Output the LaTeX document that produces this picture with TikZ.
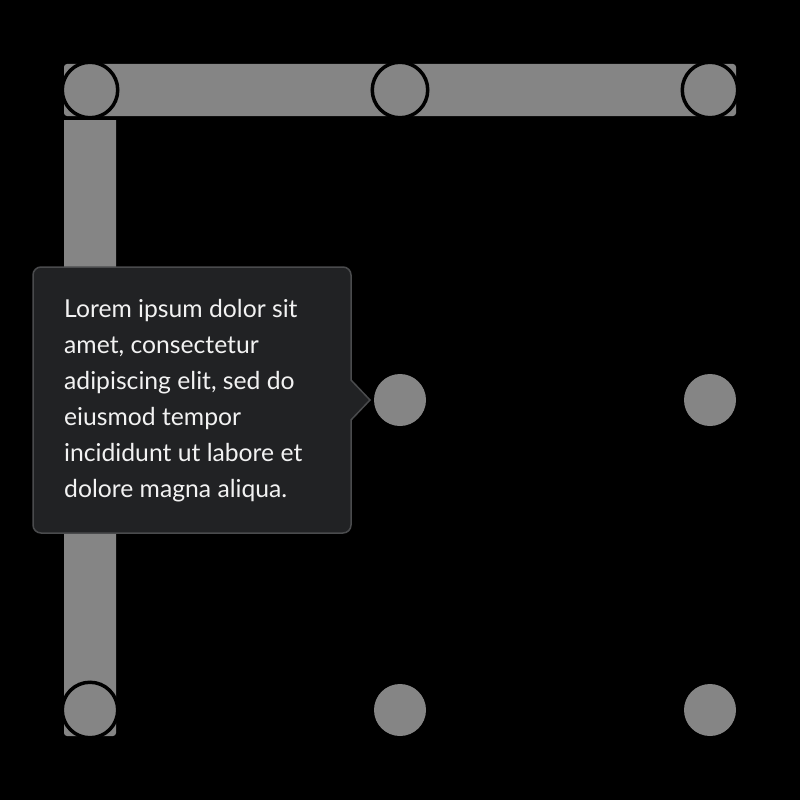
\documentclass[tikz,border=0pt]{standalone}
\usepackage{fontspec}
\setmainfont{Lato}
\definecolor{bargray}{HTML}{858585}
\definecolor{tipfill}{HTML}{212224}
\definecolor{tipedge}{HTML}{4A4B4D}
\definecolor{tiptext}{HTML}{F2F2F2}
\begin{document}
\begin{tikzpicture}[x=1pt,y=-1pt,
  bar/.style={fill=bargray,rounded corners=3pt},
  dotring/.style={circle,fill=bargray,draw=black,line width=3.5pt,minimum size=55.5pt,inner sep=0pt},
  dotplain/.style={circle,fill=bargray,minimum size=52pt,inner sep=0pt},
  tip/.style={fill=tipfill,draw=tipedge,line width=1.5pt,line join=miter}]
\useasboundingbox[fill=black] (0,0) rectangle (800,800);
\fill[bar] (64,64) rectangle (736,116);
\fill[fill=bargray] (64,120) [rounded corners=3pt] -- (64,736) -- (116,736) [sharp corners] -- (116,120) -- cycle;
\node[dotring] (a1) at (90,90) {};
\node[dotring] (a2) at (400,90) {};
\node[dotring] (a3) at (710,90) {};
\node[dotplain] (b2) at (400,400) {};
\node[dotplain] (b3) at (710,400) {};
\node[dotring] (c1) at (90,710) {};
\node[dotplain] (c2) at (400,710) {};
\node[dotplain] (c3) at (710,710) {};
\draw[tip] (351,380) -- (370,400) -- (351,420)
  [rounded corners=8pt] -- (351,533) -- (33,533) -- (33,267) -- (351,267) [sharp corners] -- cycle;
\node[anchor=base west,inner sep=0pt,text=tiptext,font=\fontsize{24.7}{36}\selectfont,align=left] (txt) at (64,497)
  {Lorem ipsum dolor sit\\amet, consectetur\\adipiscing elit, sed do\\eiusmod tempor\\incididunt ut labore et\\dolore magna aliqua.};
\end{tikzpicture}
\end{document}
